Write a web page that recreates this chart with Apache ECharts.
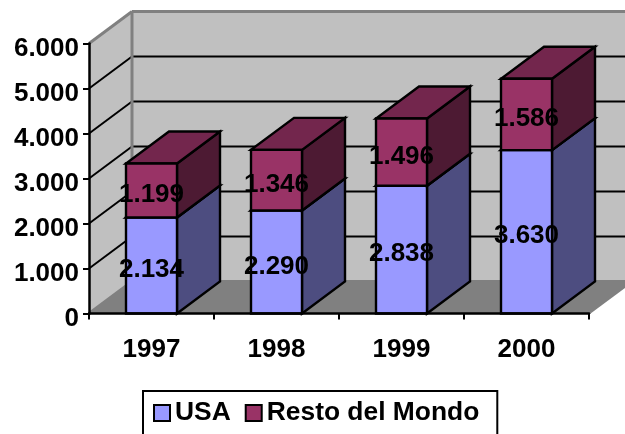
<!DOCTYPE html>
<html>
<head>
<meta charset="utf-8">
<style>html,body{margin:0;padding:0;background:#fff;overflow:hidden}#c{width:625px;height:434px}</style>
<script src="https://cdn.jsdelivr.net/npm/echarts@6/dist/echarts.min.js"></script>
</head>
<body>
<div id="c"></div>
<script>
const categories = ['1997', '1998', '1999', '2000'];
const usa = [2134, 2290, 2838, 3630];
const resto = [1199, 1346, 1496, 1586];
const yTicks = [0, 1000, 2000, 3000, 4000, 5000, 6000];
const yTickLabels = ['0', '1.000', '2.000', '3.000', '4.000', '5.000', '6.000'];

const DX = 43, DY = 32, BAR = 0.408;
const FONT = '"Liberation Sans", Arial, sans-serif';
const fmt = v => String(v).replace(/(\d)(\d{3})$/, '$1.$2');

function poly(points, fill, stroke, lw) {
  return { type: 'polygon', shape: { points }, style: { fill, stroke: stroke || 'none', lineWidth: lw || 0 } };
}
function seg(a, b, stroke, lw) {
  return { type: 'line', shape: { x1: a[0], y1: a[1], x2: b[0], y2: b[1] }, style: { stroke, lineWidth: lw } };
}

function renderWalls(params, api) {
  const g = params.coordSys;
  const L = g.x, R = g.x + g.width;
  const y0 = api.coord([0, yTicks[0]])[1];
  const yTop = api.coord([0, yTicks[yTicks.length - 1]])[1];
  const ch = [];
  ch.push(poly([[L, y0], [L + DX, y0 - DY], [L + DX, yTop - DY], [L, yTop]], '#C0C0C0'));
  ch.push(poly([[L + DX, y0 - DY], [R + DX, y0 - DY], [R + DX, yTop - DY], [L + DX, yTop - DY]], '#C0C0C0'));
  ch.push(poly([[L, y0], [R, y0], [R + DX, y0 - DY], [L + DX, y0 - DY]], '#808080'));
  yTicks.forEach(t => {
    const y = api.coord([0, t])[1];
    const inner = t > yTicks[0] && t < yTicks[yTicks.length - 1];
    const col = inner ? '#000' : '#808080';
    const lw = inner ? 2 : 3;
    ch.push(seg([L, y], [L + DX, y - DY], col, lw));
    ch.push(seg([L + DX, y - DY], [R + DX, y - DY], col, lw));
  });
  ch.push(seg([L + DX, y0 - DY], [L + DX, yTop - DY], '#808080', 3));
  ch.push(seg([R, y0], [R + DX, y0 - DY], '#808080', 2));
  return { type: 'group', children: ch };
}

function barRenderer(front, side, top) {
  return function (params, api) {
    const i = api.value(0), base = api.value(1), val = api.value(2);
    const w = api.size([1, 0])[0] * BAR;
    const c0 = api.coord([i, base]);
    const c1 = api.coord([i, base + val]);
    const x0 = c0[0] - w / 2, x1 = c0[0] + w / 2;
    const yb = c0[1], yt = c1[1];
    return {
      type: 'group',
      children: [
        poly([[x1, yb], [x1 + DX, yb - DY], [x1 + DX, yt - DY], [x1, yt]], side, '#000', 2.4),
        poly([[x0, yt], [x1, yt], [x1 + DX, yt - DY], [x0 + DX, yt - DY]], top, '#000', 2.4),
        poly([[x0, yb], [x1, yb], [x1, yt], [x0, yt]], front, '#000', 2.4),
        {
          type: 'text', z2: 100,
          style: {
            text: fmt(val), x: c0[0], y: (yb + yt) / 2 + 4.5,
            align: 'center', verticalAlign: 'middle',
            font: 'bold 26px ' + FONT, fill: '#000'
          }
        }
      ]
    };
  };
}

const chart = echarts.init(document.getElementById('c'), null, { renderer: 'canvas' });
chart.setOption({
  animation: false,
  backgroundColor: '#fff',
  grid: { left: 89, right: 36, top: 43.5, bottom: 120.5 },
  legend: {
    data: ['USA', 'Resto del Mondo'],
    left: 143, top: 391,
    padding: [9, 18, 60, 10],
    backgroundColor: '#fff',
    borderColor: '#000', borderWidth: 2, borderRadius: 0,
    itemWidth: 16, itemHeight: 16, itemGap: 14,
    icon: 'rect',
    itemStyle: { borderColor: '#000', borderWidth: 2 },
    textStyle: { fontFamily: FONT, fontWeight: 'bold', fontSize: 26.4, color: '#000' }
  },
  xAxis: {
    type: 'category', data: categories, z: 5,
    axisLine: { lineStyle: { color: '#000', width: 2.5 } },
    axisTick: { show: true, length: 6, lineStyle: { color: '#000', width: 2 } },
    axisLabel: { color: '#000', fontFamily: FONT, fontWeight: 'bold', fontSize: 26, margin: 23 },
    splitLine: { show: false }
  },
  yAxis: {
    type: 'value', min: 0, max: 6000, interval: 1000, z: 5,
    axisLine: { show: true, lineStyle: { color: '#000', width: 2.5 } },
    axisTick: { show: true, length: 6, lineStyle: { color: '#000', width: 2 } },
    axisLabel: {
      color: '#000', fontFamily: FONT, fontWeight: 'bold', fontSize: 26, margin: 10,
      verticalAlign: 'top', lineHeight: 11,
      formatter: v => yTickLabels[yTicks.indexOf(v)]
    },
    splitLine: { show: false }
  },
  series: [
    { type: 'custom', name: 'walls', silent: true, z: 1, renderItem: renderWalls, data: [[0, 0]], encode: { x: 0, y: 1 } },
    {
      type: 'custom', name: 'USA', z: 2, itemStyle: { color: '#9999FF' },
      renderItem: barRenderer('#9999FF', '#4D4D80', '#7373BF'),
      data: categories.map((c, i) => [i, 0, usa[i]]),
      encode: { x: 0, y: [1, 2] }
    },
    {
      type: 'custom', name: 'Resto del Mondo', z: 3, itemStyle: { color: '#993366' },
      renderItem: barRenderer('#993366', '#4D1A33', '#73264D'),
      data: categories.map((c, i) => [i, usa[i], resto[i]]),
      encode: { x: 0, y: [1, 2] }
    }
  ]
});
</script>
</body>
</html>
